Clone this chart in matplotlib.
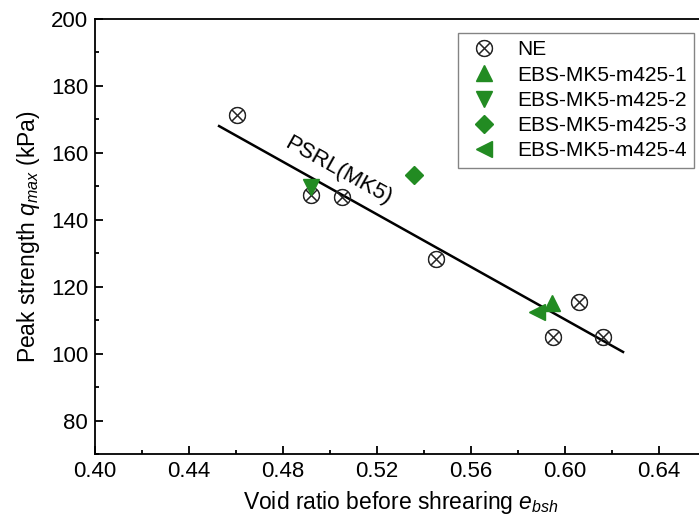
import numpy as np
import matplotlib
matplotlib.use('Agg')
import matplotlib.pyplot as plt
from matplotlib.ticker import MultipleLocator

plt.rcParams['font.family'] = ['Liberation Sans', 'DejaVu Sans']
plt.rcParams['mathtext.fontset'] = 'custom'
plt.rcParams['mathtext.rm'] = 'Liberation Sans'
plt.rcParams['mathtext.it'] = 'Liberation Sans:italic'

# ── data ─────────────────────────────
ne_e = [0.4604, 0.4919, 0.5051, 0.5451, 0.6060, 0.5949, 0.6162]
ne_q = [171.3, 147.3, 146.8, 128.4, 115.4, 105.1, 105.0]

ebs_labels = ['EBS-MK5-m425-1', 'EBS-MK5-m425-2', 'EBS-MK5-m425-3', 'EBS-MK5-m425-4']
ebs_markers = ['^', 'v', 'D', '<']
ebs_e = [0.5945, 0.4919, 0.5357, 0.5881]
ebs_q = [115.1, 149.9, 153.4, 112.4]

psrl_e = [0.4528, 0.6247]
psrl_q = [168.0, 100.5]

green = '#228B22'

fig = plt.figure(figsize=(6.99, 5.27), dpi=100)
ax = fig.add_axes([95/699, 1 - 454/527, (706 - 95)/699, (454 - 19)/527])

ax.plot(psrl_e, psrl_q, color='black', lw=1.8, zorder=2)
ax.plot(ne_e, ne_q, ls='none', marker=r'$\otimes$', ms=12, color='#222222',
        mew=0.5, label='NE', zorder=3)
for e, q, m, lab in zip(ebs_e, ebs_q, ebs_markers, ebs_labels):
    ms = 9.5 if m == 'D' else 11.5
    ax.plot([e], [q], ls='none', marker=m, ms=ms, color=green, mec=green,
            label=lab, zorder=4)

ax.text(0.5034, 154.6, 'PSRL(MK5)', rotation=-29.2, rotation_mode='anchor',
        ha='center', va='center', fontsize=16)

ax.set_xlim(0.40, 0.66)
ax.set_ylim(70, 200)
ax.xaxis.set_minor_locator(MultipleLocator(0.02))
ax.yaxis.set_minor_locator(MultipleLocator(10))
xt = np.arange(0.40, 0.641, 0.04)
ax.set_xticks(xt)
ax.set_xticklabels([f'{v:.2f}' for v in xt])
ax.set_yticks(np.arange(80, 201, 20))
ax.tick_params(which='both', direction='in', width=1.3, labelsize=16,
               top=False, right=False)
ax.tick_params(which='major', length=6, pad=5)
ax.tick_params(which='minor', length=3)
for s in ax.spines.values():
    s.set_linewidth(1.3)

ax.set_xlabel(r'Void ratio before shrearing $e_{bsh}$', fontsize=16.5, labelpad=5)
ax.set_ylabel(r'Peak strength $q_{max}$ (kPa)', fontsize=16.5, labelpad=6)

leg = ax.legend(loc='upper left', bbox_to_anchor=(458/699, 1 - 33/527),
                bbox_transform=fig.transFigure, borderaxespad=0,
                fontsize=15, frameon=True, fancybox=False, edgecolor='#666666',
                handletextpad=0.7, labelspacing=0.3, borderpad=0.35,
                handlelength=1.8)
leg.get_frame().set_linewidth(1.0)

fig.savefig('out.png', dpi=100)
